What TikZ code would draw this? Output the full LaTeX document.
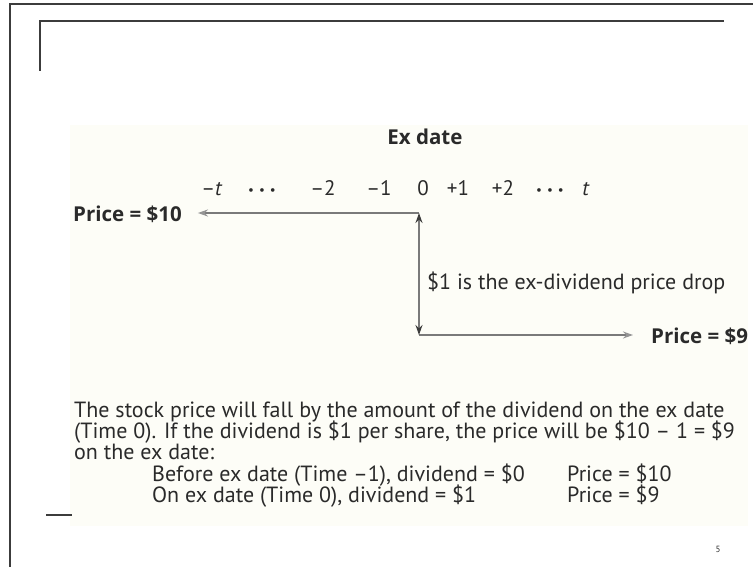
\documentclass[tikz,border=0pt]{standalone}
\usepackage{fontspec}
\setmainfont{PT Sans}
\newfontfamily\boldsans{Open Sans}
\usetikzlibrary{arrows.meta,calc}
\definecolor{cream}{HTML}{FDFDF7}
\definecolor{frame}{HTML}{3C3C3C}
\definecolor{arrowgray}{HTML}{7A7A7A}
\definecolor{txt}{HTML}{2A2A2A}
\begin{document}
\begin{tikzpicture}[x=1pt,y=-1pt,
  frameline/.style={draw=frame,line width=1.8pt},
  lbl/.style={inner sep=0pt,anchor=base,text=txt,font=\fontsize{21}{21.5}\selectfont},
  para/.style={inner sep=0pt,anchor=base west,text=txt,font=\fontsize{22}{21.5}\selectfont},
  boldlbl/.style={inner sep=0pt,text=txt,font=\boldsans\fontsize{20.5}{21.5}\selectfont\bfseries},
  garrow/.style={draw=arrowgray,line width=1.6pt,-{Stealth[length=10pt,width=7pt,color=arrowgray!80]}},
  darrow/.style={draw=arrowgray,line width=1.6pt,{Stealth[length=10pt,width=7pt,color=frame]}-{Stealth[length=10pt,width=7pt,color=frame]}}]
\newcommand{\tdots}{\raisebox{0.15ex}{\fontsize{13}{13}\selectfont •\hspace{5pt}•\hspace{5pt}•}}
\useasboundingbox (0,0) rectangle (753,567);
\fill[cream] (70,125) rectangle (748,526);
% frame lines
\draw[frameline] (10,567) -- (10,4) -- (753,4);
\draw[frameline] (40,71) -- (40,21) -- (724,21);
\draw[frameline] (46,515) -- (72,515);
% title
\node[boldlbl,anchor=base] (exdate) at (425,145) {Ex date};
% timeline labels
\node[lbl] (tm) at (212,196) {–\textit{t}};
\node[lbl] (d1) at (262,196) {\tdots};
\node[lbl] (m2) at (323,196) {–2};
\node[lbl] (m1) at (379,196) {–1};
\node[lbl] (z0) at (423,196) {0};
\node[lbl] (p1) at (458,196) {+1};
\node[lbl] (p2) at (503,196) {+2};
\node[lbl] (d2) at (550,196) {\tdots};
\node[lbl] (tp) at (586,196) {\textit{t}};
% prices
\node[boldlbl,anchor=base west] (price10) at (73,222) {Price = \$10};
\node[boldlbl,anchor=base west] (price9) at (651,343) {Price = \$9};
\coordinate (top) at (419,213);
\coordinate (bot) at (419,335);
\draw[garrow] (top) -- ($(price10.east |- top)+(16,0)$);
\draw[garrow] (bot) -- ($(price9.west |- bot)+(-18,0)$);
\draw[darrow] (top) -- (bot);
\node[para] (drop) at (427,289) {\$1 is the ex-dividend price drop};
% paragraph
\node[para] (l1) at (74,417) {The stock price will fall by the amount of the dividend on the ex date};
\node[para] (l2) at (74,438) {(Time 0). If the dividend is \$1 per share, the price will be \$10 – 1 = \$9};
\node[para] (l3) at (74,459) {on the ex date:};
\node[para] (l4) at (152,481) {Before ex date (Time –1), dividend = \$0};
\node[para] (l5) at (152,502) {On ex date (Time 0), dividend = \$1};
\node[para] (l4p) at (567,481) {Price = \$10};
\node[para] (l5p) at (567,502) {Price = \$9};
\node[inner sep=0pt,anchor=base,text=txt,font=\fontsize{9}{10}\selectfont] (pg) at (718,552) {5};
\end{tikzpicture}
\end{document}
